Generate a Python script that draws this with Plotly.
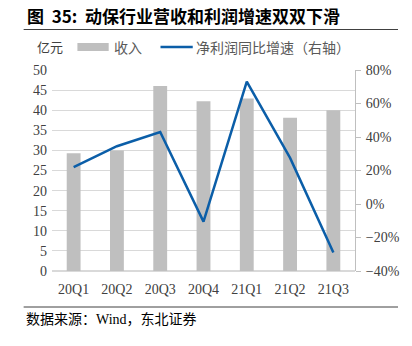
import plotly.graph_objects as go

quarters = ["20Q1", "20Q2", "20Q3", "20Q4", "21Q1", "21Q2", "21Q3"]
revenue = [29.3, 30.0, 46.0, 42.2, 42.9, 38.1, 40.0]
profit_growth = [22.0, 34.5, 43.0, -10.5, 73.0, 27.5, -29.0]

W, H = 412, 346
L, R, T, B = 52, 50, 70, 75

serif = "Liberation Serif, Noto Sans CJK SC"
cjk = "Noto Sans CJK SC"
grey_txt = "#404040"

fig = go.Figure()
fig.add_trace(go.Bar(x=quarters, y=revenue, marker=dict(color="#bfbfbf", line=dict(width=0)),
                     yaxis="y", showlegend=False))
fig.add_trace(go.Scatter(x=quarters, y=profit_growth, mode="lines",
                         line=dict(color="#0b5ea8", width=2.5), yaxis="y2", showlegend=False))

pw, ph = W - L - R, H - T - B
def fx(p):
    return (p - L) / pw
def fy(p):
    return (H - B - p) / ph

shapes = [
    dict(type="line", xref="paper", yref="paper", x0=fx(23), x1=fx(406), y0=fy(29.5), y1=fy(29.5),
         line=dict(color="#404040", width=1)),
    dict(type="line", xref="paper", yref="paper", x0=fx(23), x1=fx(406), y0=fy(307), y1=fy(307),
         line=dict(color="#404040", width=1)),
    # legend swatches
    dict(type="rect", xref="paper", yref="paper", x0=fx(78), x1=fx(110), y0=fy(51), y1=fy(43),
         fillcolor="#bfbfbf", line=dict(width=0)),
    dict(type="line", xref="paper", yref="paper", x0=fx(163), x1=fx(196), y0=fy(47), y1=fy(47),
         line=dict(color="#0b5ea8", width=2.5)),
]

annotations = [
    dict(text="<b>图  35:  动保行业营收和利润增速双双下滑</b>", xref="paper", yref="paper",
         x=fx(24), y=fy(15), xanchor="left", yanchor="middle", showarrow=False,
         font=dict(family=cjk, size=17, color="#000000")),
    dict(text="亿元", xref="paper", yref="paper", x=fx(35), y=fy(46), xanchor="left", yanchor="middle",
         showarrow=False, font=dict(family=cjk, size=13, color=grey_txt)),
    dict(text="收入", xref="paper", yref="paper", x=fx(113), y=fy(47), xanchor="left", yanchor="middle",
         showarrow=False, font=dict(family=cjk, size=14, color="#595959")),
    dict(text="净利润同比增速（右轴）", xref="paper", yref="paper", x=fx(197), y=fy(47), xanchor="left",
         yanchor="middle", showarrow=False, font=dict(family=cjk, size=14, color="#595959")),
    dict(text="数据来源：Wind，东北证券", xref="paper", yref="paper", x=fx(23), y=fy(319), xanchor="left",
         yanchor="middle", showarrow=False, font=dict(family=serif, size=14, color="#000000")),
]

fig.update_layout(
    width=W, height=H,
    margin=dict(l=L, r=R, t=T, b=B),
    paper_bgcolor="white", plot_bgcolor="white",
    bargap=0.68,
    shapes=shapes,
    annotations=annotations,
    xaxis=dict(type="category", showgrid=False, showline=False, ticks="",
               tickfont=dict(family=serif, size=14, color=grey_txt), ticklabelstandoff=8),
    yaxis=dict(range=[0, 50], dtick=5, showgrid=True, gridcolor="#d9d9d9", gridwidth=1,
               zeroline=True, zerolinecolor="#d9d9d9", showline=False, ticks="",
               tickfont=dict(family=serif, size=14, color=grey_txt), ticklabelstandoff=4),
    yaxis2=dict(range=[-40, 80], dtick=20, overlaying="y", side="right", showgrid=False,
                zeroline=False, showline=True, linecolor="#bfbfbf", linewidth=1,
                ticks="outside", ticklen=5, tickcolor="#bfbfbf", ticksuffix="%",
                tickfont=dict(family=serif, size=14, color=grey_txt), ticklabelstandoff=2),
)

fig.write_html("out.html")
